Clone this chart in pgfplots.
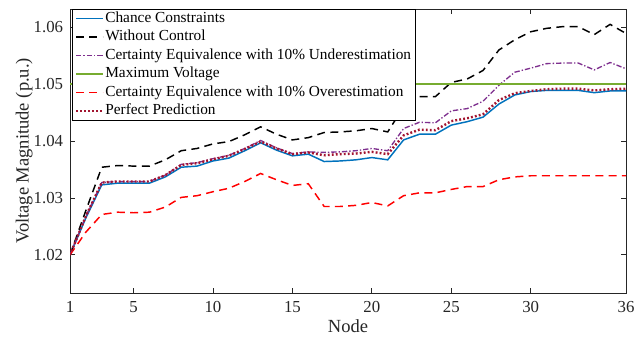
\documentclass[border=0pt]{standalone}
\usepackage{fontspec}
\setmainfont{Liberation Serif}
\usepackage{pgfplots}
\pgfplotsset{compat=1.18}
\definecolor{mblue}{rgb}{0,0.447,0.741}
\definecolor{mpurple}{rgb}{0.494,0.184,0.556}
\definecolor{mgreen}{rgb}{0.466,0.674,0.188}
\definecolor{mdred}{rgb}{0.635,0.078,0.184}
\definecolor{axgray}{rgb}{0.15,0.15,0.15}
\begin{document}
\begin{tikzpicture}
\begin{axis}[
  scale only axis, width=417pt, height=213pt,
  xmin=1, xmax=36, ymin=1.0133, ymax=1.0632,
  xtick={1,5,10,15,20,25,30,36},
  ytick={1.02,1.03,1.04,1.05,1.06},
  yticklabels={1.02,1.03,1.04,1.05,1.06},
  tick align=inside, major tick length=4pt,
  axis line style={axgray, line width=0.6pt},
  tick style={axgray, line width=0.6pt},
  /pgf/number format/assume math mode=true,
  ticklabel style={font=\fontsize{12.6}{15}\selectfont, text=axgray},
  xticklabel style={inner sep=0pt, anchor=north, yshift=-6pt},
  yticklabel style={inner sep=0pt, anchor=east, xshift=-5pt},
  xlabel={Node}, ylabel={Voltage Magnitude (p.u.)},
  label style={font=\fontsize{13.9}{16}\selectfont, text=axgray},
  xlabel style={at={([yshift=-20pt]axis description cs:0.5,0)}, anchor=north, inner sep=0pt},
  ylabel style={at={([xshift=-27.75pt]axis description cs:0,0.5)}, anchor=south, inner sep=0pt},
  legend style={at={([xshift=1.5pt]axis description cs:0,1)}, anchor=north west,
    draw=black, fill=white, inner xsep=2pt, inner ysep=0pt,
    row sep=0pt, font=\fontsize{11.5}{13}\selectfont, text=black,
    nodes={inner xsep=1pt, inner ysep=1.45pt, text height=8.2pt, text depth=2.8pt, anchor=west}},
  legend cell align=left,
  legend image code/.code={\draw[#1] (0pt,0pt) -- (20pt,0pt);},
]
% Chance Constraints
\addplot[mblue, line width=1.1pt] coordinates {
(1,1.0200) (2,1.0265) (3,1.0323) (4,1.0326) (5,1.0326) (6,1.0326) (7,1.0337) (8,1.0354) (9,1.0356) (10,1.0365)
(11,1.0370) (12,1.0383) (13,1.0397) (14,1.0384) (15,1.0374) (16,1.0377) (17,1.0364) (18,1.0365) (19,1.0367) (20,1.0371)
(21,1.0367) (22,1.0402) (23,1.0412) (24,1.0412) (25,1.0428) (26,1.0434) (27,1.0442) (28,1.0465) (29,1.0481) (30,1.0487)
(31,1.0489) (32,1.0489) (33,1.0489) (34,1.0485) (35,1.0488) (36,1.0488)};
\addlegendentry{Chance Constraints}
% Without Control
\addplot[black, line width=1.1pt, dash pattern=on 6pt off 4pt] coordinates {
(1,1.0200) (2,1.0278) (3,1.0354) (4,1.0357) (5,1.0356) (6,1.0356) (7,1.0367) (8,1.0383) (9,1.0387) (10,1.0395)
(11,1.0399) (12,1.0411) (13,1.0425) (14,1.0412) (15,1.0402) (16,1.0406) (17,1.0415) (18,1.0416) (19,1.0418) (20,1.0422)
(21,1.0416) (22,1.0460) (23,1.0478) (24,1.0478) (25,1.0503) (26,1.0509) (27,1.0524) (28,1.0560) (29,1.0578) (30,1.0592)
(31,1.0598) (32,1.0601) (33,1.0601) (34,1.0587) (35,1.0605) (36,1.0589)};
\addlegendentry{Without Control}
% Underestimation
\addplot[mpurple, line width=1pt, dash pattern=on 4pt off 1.5pt on 1pt off 1.5pt] coordinates {
(1,1.0200) (2,1.0268) (3,1.0327) (4,1.0329) (5,1.0329) (6,1.0329) (7,1.0340) (8,1.0359) (9,1.0362) (10,1.0369)
(11,1.0375) (12,1.0387) (13,1.0401) (14,1.0388) (15,1.0378) (16,1.0381) (17,1.0380) (18,1.0381) (19,1.0383) (20,1.0387)
(21,1.0383) (22,1.0422) (23,1.0433) (24,1.0432) (25,1.0453) (26,1.0457) (27,1.0470) (28,1.0498) (29,1.0521) (30,1.0528)
(31,1.0536) (32,1.0537) (33,1.0537) (34,1.0525) (35,1.0538) (36,1.0527)};
\addlegendentry{Certainty Equivalence with 10\% Underestimation}
% Maximum Voltage
\addplot[mgreen, line width=1.1pt] coordinates {(1,1.05) (36,1.05)};
\addlegendentry{Maximum Voltage}
% Overestimation
\addplot[red, line width=1.1pt, dash pattern=on 6pt off 4pt] coordinates {
(1,1.0200) (2,1.0240) (3,1.0271) (4,1.0275) (5,1.0274) (6,1.0275) (7,1.0284) (8,1.0301) (9,1.0304) (10,1.0311)
(11,1.0317) (12,1.0329) (13,1.0343) (14,1.0332) (15,1.0322) (16,1.0325) (17,1.0285) (18,1.0285) (19,1.0287) (20,1.0292)
(21,1.0286) (22,1.0304) (23,1.0309) (24,1.0309) (25,1.0315) (26,1.0320) (27,1.0320) (28,1.0332) (29,1.0337) (30,1.0339)
(31,1.0339) (32,1.0339) (33,1.0339) (34,1.0339) (35,1.0339) (36,1.0339)};
\addlegendentry{Certainty Equivalence with 10\% Overestimation}
% Perfect Prediction
\addplot[mdred, line width=1.8pt, dash pattern=on 1.4pt off 1.6pt] coordinates {
(1,1.0200) (2,1.0268) (3,1.0327) (4,1.0329) (5,1.0329) (6,1.0329) (7,1.0340) (8,1.0358) (9,1.0361) (10,1.0368)
(11,1.0374) (12,1.0386) (13,1.0399) (14,1.0387) (15,1.0377) (16,1.0380) (17,1.0375) (18,1.0377) (19,1.0378) (20,1.0381)
(21,1.0377) (22,1.0410) (23,1.0420) (24,1.0419) (25,1.0435) (26,1.0440) (27,1.0447) (28,1.0472) (29,1.0484) (30,1.0488)
(31,1.0491) (32,1.0492) (33,1.0492) (34,1.0489) (35,1.0491) (36,1.0492)};
\addlegendentry{Perfect Prediction}
\end{axis}
\path[use as bounding box] ([shift={(-52.5pt,-32.25pt)}]current axis.south west) rectangle ([shift={(8.25pt,6.75pt)}]current axis.north east);
\end{tikzpicture}
\end{document}
